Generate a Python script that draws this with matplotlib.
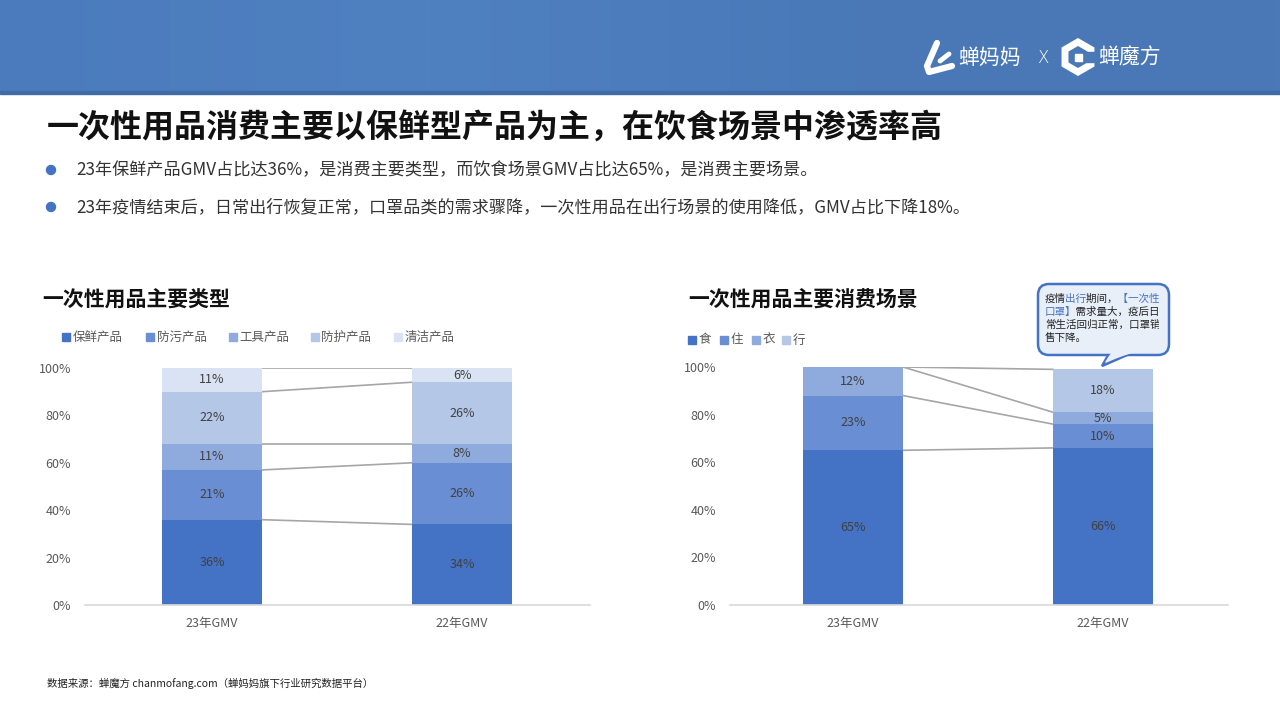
import numpy as np
import matplotlib
matplotlib.use("Agg")
import matplotlib.pyplot as plt
from matplotlib.patches import FancyBboxPatch, Polygon, Rectangle, RegularPolygon, Circle
from matplotlib.colors import LinearSegmentedColormap

plt.rcParams['font.family'] = ['Noto Sans CJK SC', 'DejaVu Sans']

# ---------------- data ----------------
periods = ['23年GMV', '22年GMV']

type_names = ['保鲜产品', '防污产品', '工具产品', '防护产品', '清洁产品']
fresh_keeping = [36, 34]
antifouling = [21, 26]
tools = [11, 8]
protective = [22, 26]
cleaning = [11, 6]

scene_names = ['食', '住', '衣', '行']
scene_food = [65, 66]
scene_living = [23, 10]
scene_clothing = [12, 5]
scene_travel = [0, 18]

yticks = [0, 20, 40, 60, 80, 100]
ytick_labels = ['0%', '20%', '40%', '60%', '80%', '100%']

title = '一次性用品消费主要以保鲜型产品为主，在饮食场景中渗透率高'
bullets = ['23年保鲜产品GMV占比达36%，是消费主要类型，而饮食场景GMV占比达65%，是消费主要场景。',
           '23年疫情结束后，日常出行恢复正常，口罩品类的需求骤降，一次性用品在出行场景的使用降低，GMV占比下降18%。']
left_title = '一次性用品主要类型'
right_title = '一次性用品主要消费场景'
source = '数据来源：蝉魔方 chanmofang.com（蝉妈妈旗下行业研究数据平台）'
callout_lines = ['疫情出行期间，【一次性', '口罩】需求量大，疫后日', '常生活回归正常，口罩销', '售下降。']
callout_blue = [[(2, 4), (7, 11)], [(0, 3)], [], []]   # character ranges shown in blue

colors5 = ['#4472C4', '#6A8ED3', '#8FAADC', '#B4C7E7', '#DAE3F3']
colors4 = ['#4472C4', '#6A8ED3', '#8FAADC', '#B4C7E7']
TXT = '#595959'
W, H = 1280, 720

fig = plt.figure(figsize=(12.8, 7.2), dpi=100)
fig.patch.set_facecolor('white')

def fx(x): return x / W
def fy(y): return 1 - y / H

# background overlay (pixel coordinates, y down)
bg = fig.add_axes([0, 0, 1, 1], zorder=0)
bg.set_xlim(0, W); bg.set_ylim(H, 0); bg.axis('off')

# header gradient band
grad = np.linspace(0, 1, 256)[None, :]
cm = LinearSegmentedColormap.from_list('hdr', ['#4B7BBC', '#4F80C0', '#4A79B8', '#4B78B6'])
bg.imshow(grad, cmap=cm, extent=[0, W, 93, 0], aspect='auto', zorder=0)
bg.add_patch(Rectangle((0, 91), W, 2.5, color='#3F6BA6', zorder=1))

# logos
bg.plot([937, 927, 929, 952], [43, 66, 72, 66], color='white', lw=4.5, solid_capstyle='round',
        solid_joinstyle='round', zorder=2)
bg.plot([940, 949], [61, 54], color='white', lw=3.5, solid_capstyle='round', zorder=2)
bg.text(958, 58, '蝉妈妈', color='white', fontsize=15, va='center', ha='left', zorder=2)
bg.text(1043, 58, 'X', color='white', fontsize=12, va='center', ha='center', zorder=2,
        fontweight='light', family=['DejaVu Sans'])
bg.add_patch(RegularPolygon((1078, 57), 6, radius=15, orientation=0, facecolor='none',
                            edgecolor='white', lw=5, zorder=2))
bg.add_patch(Rectangle((1086, 52), 10, 10, color='#4B78B6', zorder=3))
bg.add_patch(Rectangle((1075, 54), 7, 7, color='white', zorder=3))
bg.text(1098, 58, '蝉魔方', color='white', fontsize=15, va='center', ha='left', zorder=2)

# title & bullets
bg.text(47, 128, title, fontsize=23, fontweight='bold', color='#111111', va='center', ha='left')
for i, b in enumerate(bullets):
    yb = 170 + i * 37
    bg.add_patch(Circle((51, yb), 4.5, color='#4472C4'))
    bg.text(76, yb, b, fontsize=12.3, color='#333333', va='center', ha='left')

bg.text(42, 300, left_title, fontsize=15, fontweight='bold', color='#111111', va='center', ha='left')
bg.text(688, 300, right_title, fontsize=15, fontweight='bold', color='#111111', va='center', ha='left')
bg.text(47, 683, source, fontsize=7.5, color='#222222', va='center', ha='left')

# legends
def legend(xs, y, names, cols):
    for x, n, c in zip(xs, names, cols):
        bg.add_patch(Rectangle((x, y - 4), 8, 8, color=c))
        bg.text(x + 10.5, y, n, fontsize=9, color=TXT, va='center', ha='left')

legend([62, 146, 229, 311, 394], 337, type_names, colors5)
legend([688, 720, 752, 782], 340, scene_names, colors4)

BW = 0.4

def stacked(ax, series, cols):
    x = np.arange(len(periods))
    bottom = np.zeros(len(periods))
    tops = []
    for s, c in zip(series, cols):
        s = np.array(s, dtype=float)
        cont = ax.bar(x, s, BW, bottom=bottom, color=c, zorder=2)
        ax.bar_label(cont, labels=[f'{int(v)}%' if v > 0 else '' for v in s],
                     label_type='center', fontsize=9, color='#404040')
        bottom = bottom + s
        tops.append(np.minimum(bottom.copy(), 100))
    for t in tops:
        ax.plot([x[0] + BW / 2, x[1] - BW / 2], [t[0], t[1]], color='#A6A6A6', lw=1.2, zorder=1)
    ax.set_ylim(0, 100)
    ax.set_yticks(yticks)
    ax.set_yticklabels(ytick_labels)
    ax.set_xticks(x)
    ax.set_xticklabels(periods)
    ax.tick_params(axis='both', length=0, labelsize=9, labelcolor=TXT)
    ax.tick_params(axis='y', pad=10)
    ax.tick_params(axis='x', pad=9)
    for sp in ['top', 'left', 'right']:
        ax.spines[sp].set_visible(False)
    ax.spines['bottom'].set_color('#D9D9D9')
    ax.spines['bottom'].set_linewidth(1.2)
    ax.set_facecolor('none')

axL = fig.add_axes([fx(85), fy(605), fx(590 - 85), (605 - 368) / H], zorder=2)
stacked(axL, [fresh_keeping, antifouling, tools, protective, cleaning], colors5)
axL.set_xlim(-0.508, 1.512)

axR = fig.add_axes([fx(730), fy(605), fx(1228 - 730), (605 - 367) / H], zorder=2)
stacked(axR, [scene_food, scene_living, scene_clothing, scene_travel], colors4)
axR.set_xlim(-0.492, 1.5)

# callout overlay
top = fig.add_axes([0, 0, 1, 1], zorder=5)
top.set_xlim(0, W); top.set_ylim(H, 0); top.axis('off')
BLUE = '#4472C4'
FILL = '#E9EFF9'
tail = Polygon([(1110, 352), (1102, 366), (1134, 352)], closed=True,
               facecolor=FILL, edgecolor=BLUE, lw=1.8, zorder=1)
top.add_patch(tail)
box = FancyBboxPatch((1038, 284), 131, 71, boxstyle='round,pad=0,rounding_size=11',
                     facecolor=FILL, edgecolor=BLUE, lw=1.8, zorder=2)
top.add_patch(box)
top.add_patch(Polygon([(1111, 353), (1105, 362), (1132, 353)], closed=True,
                      facecolor=FILL, edgecolor='none', zorder=3))

CFS = 7.6
em = CFS * 100 / 72.0
X0 = 1045

def clipped_line(line, y, a, b, color):
    t = top.text(X0, y, line, fontsize=CFS, color=color, va='center', ha='left', zorder=4)
    rect = Rectangle((X0 - 2 + a * em, y - 9), (b - a) * em, 18, transform=top.transData)
    t.set_clip_path(rect)
    t.set_clip_on(True)

for i, (line, blues) in enumerate(zip(callout_lines, callout_blue)):
    y = 299 + i * 13
    bounds = [0] + [b for r in blues for b in r] + [len(line)]
    for k in range(0, len(bounds), 2):
        a, b = bounds[k], bounds[k + 1]
        if b > a:
            clipped_line(line, y, a, b, '#222222')
    for a, b in blues:
        clipped_line(line, y, a, b, BLUE)

fig.savefig('out.png', dpi=100)
